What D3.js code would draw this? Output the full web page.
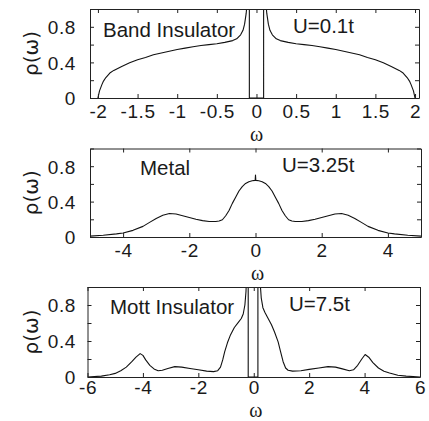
<!DOCTYPE html>
<html>
<head>
<meta charset="utf-8">
<script src="https://cdn.jsdelivr.net/npm/d3@7"></script>
<style>
  html, body { margin: 0; padding: 0; background: #fff; }
  svg { display: block; }
  text { font-family: "Liberation Sans", Arial, sans-serif; fill: #1a1a1a; }
</style>
</head>
<body>
<svg id="chart" width="429" height="421"></svg>
<script>
// ---------- DATA ----------
// Panel 1: Band insulator, U = 0.1t
const bandOmega = [-2.0, -1.98, -1.95, -1.93, -1.9, -1.85, -1.8, -1.7, -1.6, -1.5, -1.4, -1.3, -1.2, -1.1, -1.0,
  -0.9, -0.8, -0.7, -0.6, -0.5, -0.4, -0.3, -0.25, -0.2, -0.17, -0.15, -0.13, -0.12, -0.11, -0.1, -0.09, -0.09,
  0.09, 0.09, 0.1, 0.11, 0.12, 0.13, 0.15, 0.17, 0.2, 0.25, 0.3, 0.4, 0.5, 0.6, 0.7, 0.8, 0.9,
  1.0, 1.1, 1.2, 1.3, 1.4, 1.5, 1.6, 1.7, 1.8, 1.85, 1.9, 1.93, 1.95, 1.98, 2.0];
const bandRho = [0.0, 0.08, 0.15, 0.19, 0.23, 0.28, 0.31, 0.355, 0.395, 0.43, 0.455, 0.485, 0.505, 0.525, 0.545,
  0.56, 0.575, 0.59, 0.60, 0.61, 0.625, 0.645, 0.665, 0.71, 0.76, 0.83, 0.95, 1.05, 1.3, 1.8, 3.0, 0.0,
  0.0, 3.0, 1.8, 1.3, 1.05, 0.95, 0.83, 0.76, 0.71, 0.665, 0.645, 0.625, 0.61, 0.60, 0.59, 0.575, 0.56,
  0.545, 0.525, 0.505, 0.485, 0.455, 0.43, 0.395, 0.355, 0.31, 0.28, 0.23, 0.19, 0.15, 0.08, 0.0];

// Panel 2: Metal, U = 3.25t
const metalOmega = [-5.0, -4.6, -4.2, -4.0, -3.7, -3.4, -3.2, -3.0, -2.8, -2.6, -2.4, -2.2, -2.0, -1.8, -1.6, -1.4,
  -1.2, -1.1, -1.0, -0.9, -0.8, -0.7, -0.6, -0.5, -0.4, -0.3, -0.2, -0.1, -0.01, 0.0, 0.01,
  0.1, 0.2, 0.3, 0.4, 0.5, 0.6, 0.7, 0.8, 0.9, 1.0, 1.1, 1.2, 1.4, 1.6, 1.8, 2.0, 2.2, 2.4, 2.6,
  2.8, 3.0, 3.2, 3.4, 3.7, 4.0, 4.2, 4.6, 5.0];
const metalRho = [0.01, 0.02, 0.035, 0.045, 0.075, 0.12, 0.165, 0.21, 0.245, 0.265, 0.26, 0.24, 0.22, 0.2, 0.185, 0.175,
  0.175, 0.18, 0.195, 0.24, 0.30, 0.38, 0.45, 0.52, 0.57, 0.605, 0.625, 0.635, 0.64, 0.70, 0.64,
  0.635, 0.625, 0.605, 0.57, 0.52, 0.45, 0.38, 0.30, 0.24, 0.195, 0.18, 0.175, 0.175, 0.185, 0.2, 0.22, 0.24, 0.26, 0.265,
  0.245, 0.21, 0.165, 0.12, 0.075, 0.045, 0.035, 0.02, 0.01];

// Panel 3: Mott insulator, U = 7.5t
const mottOmega = [-6.0, -5.5, -5.2, -5.0, -4.8, -4.6, -4.4, -4.25, -4.1, -4.0, -3.9, -3.75, -3.6, -3.45, -3.3, -3.1,
  -2.85, -2.6, -2.3, -2.0, -1.7, -1.45, -1.3, -1.2, -1.12, -1.05, -0.95, -0.85, -0.7, -0.55, -0.45, -0.38, -0.32,
  -0.28, -0.25, -0.22, -0.2, -0.2,
  0.15, 0.15, 0.18, 0.22, 0.27, 0.33, 0.4, 0.5, 0.64, 0.75, 0.88, 0.97, 1.06, 1.15, 1.24, 1.4, 1.7, 2.0, 2.35,
  2.68, 2.95, 3.2, 3.45, 3.6, 3.75, 3.9, 4.02, 4.15, 4.3, 4.5, 4.7, 4.9, 5.2, 5.5, 6.0];
const mottRho = [0.0, 0.01, 0.025, 0.04, 0.07, 0.11, 0.17, 0.22, 0.26, 0.24, 0.19, 0.13, 0.09, 0.07, 0.075, 0.095,
  0.115, 0.11, 0.095, 0.08, 0.065, 0.06, 0.07, 0.11, 0.19, 0.28, 0.38, 0.46, 0.55, 0.61, 0.65, 0.70, 0.80,
  0.95, 1.2, 2.0, 3.0, 0.0,
  0.0, 3.0, 1.8, 1.1, 0.88, 0.77, 0.72, 0.66, 0.58, 0.50, 0.39, 0.28, 0.17, 0.10, 0.075, 0.065, 0.07, 0.085, 0.10,
  0.115, 0.11, 0.09, 0.07, 0.08, 0.13, 0.20, 0.25, 0.22, 0.16, 0.10, 0.065, 0.045, 0.02, 0.01, 0.0];

// Tick values / labels
const yTicks = [0, 0.2, 0.4, 0.6, 0.8, 1.0];
const yTickLabels = ["0", "", "0.4", "", "0.8", ""];
const bandXTicks = [-2, -1.5, -1, -0.5, 0, 0.5, 1, 1.5, 2];
const metalXTicks = [-4, -2, 0, 2, 4];
const mottXTicks = [-6, -4, -2, 0, 2, 4, 6];

const panelNames = ["Band Insulator", "Metal", "Mott Insulator"];
const panelU = ["U=0.1t", "U=3.25t", "U=7.5t"];
const yLabel = "ρ(ω)";
const xLabel = "ω";

// ---------- LAYOUT ----------
const panels = [
  { omega: bandOmega, rho: bandRho, xDomain: [-2.1, 2.05], xTicks: bandXTicks,
    left: 90, right: 419, top: 9, bottom: 98, tickLabelY: 111, xLabelBase: 140.5,
    nameX: 103, nameY: 37, uX: 293, uY: 33 },
  { omega: metalOmega, rho: metalRho, xDomain: [-5, 5], xTicks: metalXTicks,
    left: 90, right: 421, top: 148.5, bottom: 237, tickLabelY: 250, xLabelBase: 279.5,
    nameX: 140, nameY: 175, uX: 282, uY: 172 },
  { omega: mottOmega, rho: mottRho, xDomain: [-6, 6], xTicks: mottXTicks,
    left: 87.5, right: 420, top: 287, bottom: 377, tickLabelY: 387.5, xLabelBase: 416.5,
    nameX: 110, nameY: 314, uX: 289, uY: 311 }
];

const svg = d3.select("#chart");
const tickLen = 4;
const fmtTick = d => String(d);

panels.forEach((p, i) => {
  const x = d3.scaleLinear().domain(p.xDomain).range([p.left, p.right]);
  const y = d3.scaleLinear().domain([0, 1]).range([p.bottom, p.top]);
  const g = svg.append("g");

  const clipId = "clip" + i;
  svg.append("clipPath").attr("id", clipId)
    .append("rect").attr("x", p.left).attr("y", p.top)
    .attr("width", p.right - p.left).attr("height", p.bottom - p.top);

  // curve
  const pts = p.omega.map((w, k) => [w, p.rho[k]]);
  g.append("path")
    .datum(pts)
    .attr("clip-path", `url(#${clipId})`)
    .attr("fill", "none")
    .attr("stroke", "#111")
    .attr("stroke-width", 1.1)
    .attr("stroke-linejoin", "round")
    .attr("d", d3.line().x(d => x(d[0])).y(d => y(d[1])));

  // axes with inward ticks (all four sides)
  const axB = g.append("g").attr("transform", `translate(0,${p.bottom})`)
    .call(d3.axisBottom(x).tickValues(p.xTicks).tickSizeInner(-tickLen).tickSizeOuter(0).tickFormat(fmtTick));
  const axT = g.append("g").attr("transform", `translate(0,${p.top})`)
    .call(d3.axisTop(x).tickValues(p.xTicks).tickSizeInner(-tickLen).tickSizeOuter(0).tickFormat(""));
  const axL = g.append("g").attr("transform", `translate(${p.left},0)`)
    .call(d3.axisLeft(y).tickValues(yTicks).tickSizeInner(-tickLen).tickSizeOuter(0)
      .tickFormat((d, k) => yTickLabels[k]));
  const axR = g.append("g").attr("transform", `translate(${p.right},0)`)
    .call(d3.axisRight(y).tickValues(yTicks).tickSizeInner(-tickLen).tickSizeOuter(0).tickFormat(""));

  [axB, axT, axL, axR].forEach(a => {
    a.select(".domain").attr("stroke", "#222").attr("stroke-width", 1);
    a.selectAll(".tick line").attr("stroke", "#222").attr("stroke-width", 1);
  });

  axB.selectAll(".tick text")
    .attr("y", p.tickLabelY - p.bottom).attr("dy", "0.36em")
    .style("font-family", '"Liberation Sans", Arial, sans-serif')
    .style("font-size", "19px").style("letter-spacing", "0.6px").style("fill", "#1a1a1a");
  axL.selectAll(".tick text")
    .attr("x", -(p.left - 76)).attr("dy", "0.36em")
    .style("font-family", '"Liberation Sans", Arial, sans-serif')
    .style("font-size", "19px").style("letter-spacing", "0.6px").style("fill", "#1a1a1a");

  // annotations
  g.append("text").attr("x", p.nameX).attr("y", p.nameY)
    .style("font-size", "20.5px").text(panelNames[i]);
  g.append("text").attr("x", p.uX).attr("y", p.uY)
    .style("font-size", "20.5px").text(panelU[i]);

  // axis labels
  g.append("text")
    .attr("transform", `translate(38,${(p.top + p.bottom) / 2}) rotate(-90)`)
    .attr("text-anchor", "middle")
    .style("font-family", '"DejaVu Sans", sans-serif')
    .style("font-size", "20px")
    .text(yLabel);
  g.append("text")
    .attr("x", (p.left + p.right) / 2 + 2).attr("y", p.xLabelBase)
    .attr("text-anchor", "middle")
    .style("font-family", '"Liberation Serif", "Times New Roman", serif')
    .style("font-size", "20px")
    .text(xLabel);
});
</script>
</body>
</html>
